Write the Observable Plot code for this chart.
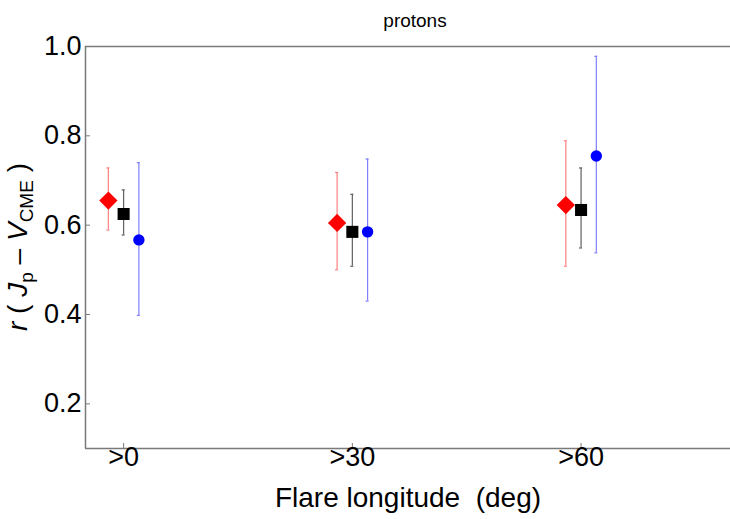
<!DOCTYPE html>
<html>
<head>
<meta charset="utf-8">
<script src="https://cdn.jsdelivr.net/npm/d3@7"></script>
<script src="https://cdn.jsdelivr.net/npm/@observablehq/plot@0.6"></script>
<style>
  html, body { margin: 0; padding: 0; background: #fff; }
</style>
</head>
<body>
<div id="chart"></div>
<script>
// ---- data ----
const xTicks = [0, 30, 60];
const xTickLabels = [">0", ">30", ">60"];
const yTicks = [0.2, 0.4, 0.6, 0.8, 1.0];
const xDomain = [-5, 79.6];
const yDomain = [0.1, 1.0];

const redX = [-2, 28, 58];
const redY = [0.655, 0.605, 0.645];
const redLo = [0.589, 0.500, 0.508];
const redHi = [0.728, 0.718, 0.789];

const blackX = [0, 30, 60];
const blackY = [0.625, 0.585, 0.634];
const blackLo = [0.578, 0.508, 0.549];
const blackHi = [0.679, 0.669, 0.728];

const blueX = [2, 32, 62];
const blueY = [0.567, 0.585, 0.755];
const blueLo = [0.398, 0.430, 0.538];
const blueHi = [0.740, 0.748, 0.978];

const titleText = "protons";
const xLabel = "Flare longitude\u00a0 (deg)";

function rows(xs, ys, lo, hi) {
  return xs.map((x, i) => ({x, y: ys[i], lo: lo[i], hi: hi[i]}));
}
const red = rows(redX, redY, redLo, redHi);
const black = rows(blackX, blackY, blackLo, blackHi);
const blue = rows(blueX, blueY, blueLo, blueHi);

const squareDiamond = {
  draw(context, size) {
    const h = Math.sqrt(size / 2);
    context.moveTo(0, -h);
    context.lineTo(h, 0);
    context.lineTo(0, h);
    context.lineTo(-h, 0);
    context.closePath();
  }
};

const font = "'Liberation Sans', Arial, sans-serif";
const frameColor = "#7a7a7a";

function errorMarks(data, color) {
  return [
    Plot.ruleX(data, {x: "x", y1: "lo", y2: "hi", stroke: color, strokeWidth: 1.2}),
    Plot.ruleY(data, {y: "lo", x1: d => d.x - 0.2, x2: d => d.x + 0.2, stroke: color, strokeWidth: 1.2}),
    Plot.ruleY(data, {y: "hi", x1: d => d.x - 0.2, x2: d => d.x + 0.2, stroke: color, strokeWidth: 1.2})
  ];
}

const plot = Plot.plot({
  width: 730,
  height: 519,
  marginTop: 46,
  marginBottom: 71,
  marginLeft: 85,
  marginRight: 0,
  style: {fontFamily: font, fontSize: "27px", color: "#000", background: "#fff"},
  x: {domain: xDomain, axis: null},
  y: {domain: yDomain, axis: null},
  marks: [
    Plot.ruleY(yDomain, {stroke: frameColor, strokeWidth: 1.5}),
    Plot.ruleX([xDomain[0]], {stroke: frameColor, strokeWidth: 1.5}),
    Plot.axisY(yTicks, {anchor: "left", tickSize: 5, dx: 5, tickFormat: () => "", stroke: frameColor, label: null}),
    Plot.axisY(yTicks, {anchor: "left", tickSize: 0, tickPadding: 4, tickFormat: d => d.toFixed(1), fill: "#000", fontSize: 27, label: null}),
    Plot.axisX(xTicks, {anchor: "bottom", tickSize: 5, dy: -5, tickFormat: () => "", stroke: frameColor, label: null}),
    Plot.axisX(xTicks, {anchor: "bottom", tickSize: 0, tickPadding: 8, dy: -10, tickFormat: (d, i) => xTickLabels[i], fill: "#000", fontSize: 27, label: null}),
    ...errorMarks(red, "#ff8080"),
    ...errorMarks(black, "#606060"),
    ...errorMarks(blue, "#7f7fff"),
    Plot.dot(red, {x: "x", y: "y", symbol: squareDiamond, r: 7.3, fill: "#ff0000", stroke: "none"}),
    Plot.dot(black, {x: "x", y: "y", symbol: "square", r: 6.8, fill: "#000", stroke: "none"}),
    Plot.dot(blue, {x: "x", y: "y", symbol: "circle", r: 5.7, fill: "#0000ff", stroke: "none"}),
    Plot.text([titleText], {text: d => d, frameAnchor: "top", dx: 7, dy: -33, fontSize: 19, fill: "#000"}),
    Plot.text([xLabel], {text: d => d, frameAnchor: "bottom", dy: 58, fontSize: 28, fill: "#000"})
  ]
});

document.getElementById("chart").appendChild(plot);

// y-axis label with italic variables and subscripts
const svg = d3.select(plot);
const t = svg.append("text")
  .attr("transform", "translate(27,247) rotate(-90)")
  .attr("text-anchor", "middle")
  .attr("font-family", font)
  .attr("font-size", 28)
  .attr("fill", "#000")
  .attr("xml:space", "preserve");
t.append("tspan").attr("font-style", "italic").text("r");
t.append("tspan").text(" ( ");
t.append("tspan").attr("font-style", "italic").text("J");
t.append("tspan").attr("font-size", 19).attr("dy", 6).text("p");
t.append("tspan").attr("dy", -6).text(" \u2013 ");
t.append("tspan").attr("font-style", "italic").text("V");
t.append("tspan").attr("font-size", 19).attr("dy", 6).text("CME");
t.append("tspan").attr("dy", -6).text(" )");
</script>
</body>
</html>
